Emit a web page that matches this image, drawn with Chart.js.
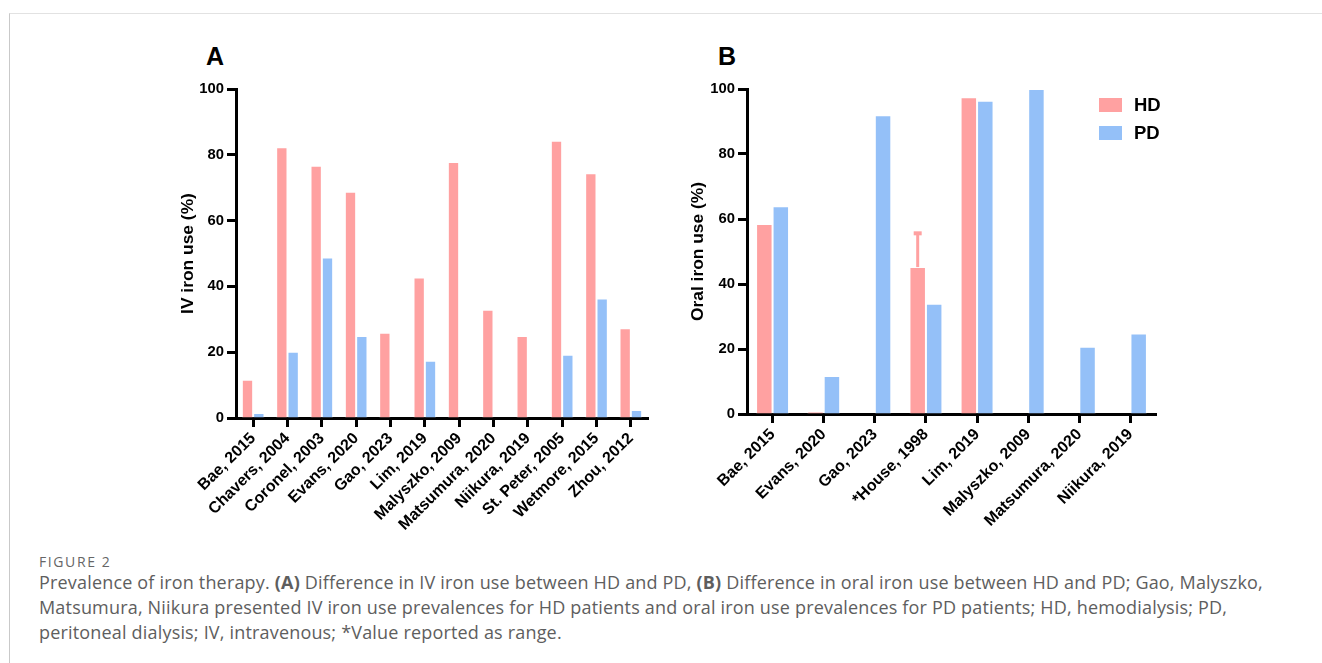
<!DOCTYPE html>
<html lang="en">
<head>
<meta charset="UTF-8">
<title>Figure 2 - Prevalence of iron therapy</title>
<script src="https://cdn.jsdelivr.net/npm/chart.js@4"></script>
<style>
  body { margin: 0; background: #fff; width: 1322px; height: 663px; overflow: hidden; position: relative; }
  .frame { position: absolute; left: 9px; top: 13px; right: 0; bottom: -10px; border-top: 1px solid #e2e2e2; border-left: 1px solid #c9c9c9; }
  .panel { position: absolute; top: 40px; width: 510px; height: 500px; }
  .letter { position: absolute; top: 42px; font: bold 25px "Liberation Sans", Arial, sans-serif; color: #000; }
  #legendB { position: absolute; left: 1099px; top: 91px; font: bold 18.5px "Liberation Sans", Arial, sans-serif; }
  #legendB .row { height: 28px; display: flex; align-items: center; }
  #legendB .box { width: 23px; height: 14px; margin-right: 12px; }
  .fig { position: absolute; left: 39px; top: 552px; font: 14px "Open Sans", sans-serif; color: #666; letter-spacing: 1.6px; }
  .caption { position: absolute; left: 39px; top: 570px; font: 18px/25px "Open Sans", sans-serif; color: #5e5e5e; letter-spacing: 0.18px; white-space: nowrap; }
</style>
</head>
<body>
<div class="frame"></div>

<div class="letter" style="left:206px">A</div>
<div class="letter" style="left:718px">B</div>

<div class="panel" style="left:160px"><canvas id="chartA" width="510" height="500"></canvas></div>
<div class="panel" style="left:670px"><canvas id="chartB" width="510" height="500"></canvas></div>
<div id="legendB"></div>

<div class="fig">FIGURE 2</div>
<div class="caption">
Prevalence of iron therapy. <b>(A)</b> Difference in IV iron use between HD and PD, <b>(B)</b> Difference in oral iron use between HD and PD; Gao, Malyszko,<br>
Matsumura, Niikura presented IV iron use prevalences for HD patients and oral iron use prevalences for PD patients; HD, hemodialysis; PD,<br>
peritoneal dialysis; IV, intravenous; *Value reported as range.
</div>

<script>
// panel A - IV iron
const studiesA = ['Bae, 2015', 'Chavers, 2004', 'Coronel, 2003', 'Evans, 2020', 'Gao, 2023', 'Lim, 2019',
  'Malyszko, 2009', 'Matsumura, 2020', 'Niikura, 2019', 'St. Peter, 2005', 'Wetmore, 2015', 'Zhou, 2012'];
const ivHD = [11.6, 82.3, 76.7, 68.8, 25.9, 42.7, 77.8, 32.9, 24.9, 84.3, 74.4, 27.3];
const ivPD = [1.5, 20.1, 48.8, 24.9, null, 17.4, null, null, null, 19.2, 36.3, 2.4];

// panel B - oral iron
const studiesB = ['Bae, 2015', 'Evans, 2020', 'Gao, 2023', '*House, 1998', 'Lim, 2019',
  'Malyszko, 2009', 'Matsumura, 2020', 'Niikura, 2019'];
const oralHD = [58.5, 0.7, null, 45.2, 97.5, null, null, null];
const oralPD = [63.9, 11.7, 91.9, 33.9, 96.4, 100, 20.7, 24.8];
const oralHDHigh = [null, null, null, 55.9, null, null, null, null]; // House reported a range

const yTicks = [0, 20, 40, 60, 80, 100];

const pink = '#ffa1a1';
const blue = '#94c0f8';

Chart.defaults.font.family = '"Liberation Sans", Arial, sans-serif';
Chart.defaults.color = '#000';

// draws the upper whisker of a range on top of a bar
const errorBars = {
  id: 'errorBars',
  afterDatasetsDraw(chart, args, opts) {
    if (!opts.high) return;
    const meta = chart.getDatasetMeta(opts.dataset);
    const y = chart.scales.y;
    const ctx = chart.ctx;
    ctx.save();
    ctx.strokeStyle = opts.color;
    opts.high.forEach((v, i) => {
      if (v == null) return;
      const bar = meta.data[i];
      const top = y.getPixelForValue(v);
      ctx.lineWidth = 3;
      ctx.beginPath();
      ctx.moveTo(bar.x, bar.y);
      ctx.lineTo(bar.x, top);
      ctx.stroke();
      ctx.lineWidth = 4;
      ctx.beginPath();
      ctx.moveTo(bar.x - 4, top + 1);
      ctx.lineTo(bar.x + 4, top + 1);
      ctx.stroke();
    });
    ctx.restore();
  }
};

function axisGrid() {
  return { display: true, offset: false, drawOnChartArea: false, drawTicks: true,
           tickLength: 9, tickWidth: 3, tickColor: '#000' };
}

function makePanel(id, labels, hd, pd, yTitle, o) {
  return new Chart(document.getElementById(id), {
    type: 'bar',
    data: {
      labels: labels,
      datasets: [
        { label: 'HD', data: hd, backgroundColor: pink, borderColor: 'rgba(255,255,255,0.55)',
          borderWidth: 1, categoryPercentage: o.cat, barPercentage: 1 },
        { label: 'PD', data: pd, backgroundColor: blue, borderColor: 'rgba(255,255,255,0.55)',
          borderWidth: 1, categoryPercentage: o.cat, barPercentage: 1 }
      ]
    },
    options: {
      responsive: false,
      animation: false,
      layout: { padding: { left: 0, top: 49, right: o.padRight, bottom: 0 } },
      plugins: {
        legend: { display: false },
        tooltip: { enabled: false },
        errorBars: o.errors || {}
      },
      scales: {
        x: {
          grid: axisGrid(),
          border: { display: true, width: 3, color: '#000' },
          ticks: { minRotation: 45, maxRotation: 45, autoSkip: false, padding: 2,
                   font: { size: 16, weight: 'bold' } },
          afterFit: s => { s.height = o.xHeight; }
        },
        y: {
          min: 0, max: 100,
          afterBuildTicks: s => { s.ticks = yTicks.map(v => ({ value: v })); },
          grid: axisGrid(),
          border: { display: true, width: 3, color: '#000' },
          ticks: { padding: 3, font: { size: 14.8, weight: 'bold' } },
          title: { display: true, text: yTitle, color: '#000', padding: { top: 18, bottom: 0 },
                   font: { size: 17.4, weight: 'bold' } },
          afterFit: s => { s.width = o.yWidth; }
        }
      }
    },
    plugins: [errorBars]
  });
}

makePanel('chartA', studiesA, ivHD, ivPD, 'IV iron use (%)',
  { cat: 0.66, yWidth: 76, xHeight: 122, padRight: 22 });

const chartB = makePanel('chartB', studiesB, oralHD, oralPD, 'Oral iron use (%)',
  { cat: 0.645, yWidth: 77, xHeight: 126, padRight: 24,
    errors: { dataset: 0, high: oralHDHigh, color: pink } });

// legend for panel B from the chart's datasets
const legendB = document.getElementById('legendB');
chartB.data.datasets.forEach(ds => {
  const row = document.createElement('div');
  row.className = 'row';
  row.innerHTML = '<span class="box" style="background:' + ds.backgroundColor + '"></span>' + ds.label;
  legendB.appendChild(row);
});
</script>
</body>
</html>
